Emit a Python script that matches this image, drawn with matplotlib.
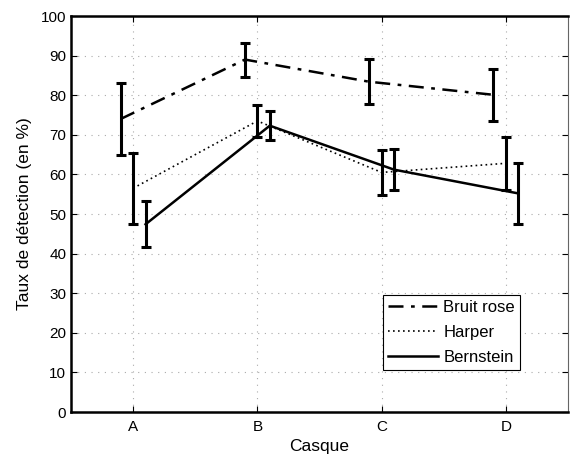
import numpy as np
import matplotlib.pyplot as plt

plt.rcParams['font.family'] = ['Liberation Sans', 'DejaVu Sans']

casques = ['A', 'B', 'C', 'D']
x = np.arange(1, 5)

bruit_rose = [74.0, 89.0, 83.4, 80.1]
bruit_rose_err = [9.2, 4.3, 5.7, 6.5]
harper = [56.5, 73.5, 60.5, 62.8]
harper_err = [9.0, 4.0, 5.7, 6.7]
bernstein = [47.4, 72.3, 61.2, 55.2]
bernstein_err = [5.8, 3.6, 5.2, 7.8]

fig = plt.figure(figsize=(5.7, 4.57), dpi=100)
ax = fig.add_axes([71/570, 1 - 412/457, (568-71)/570, (412-16)/457])

eb = dict(color='black', elinewidth=2.2, capsize=3.5, capthick=2.2)
ax.errorbar(x - 0.1, bruit_rose, yerr=bruit_rose_err, linestyle=(0, (6, 3, 1.5, 3)),
            lw=1.8, label='Bruit rose', **eb)
ax.errorbar(x, harper, yerr=harper_err, linestyle=(0, (1, 2)), lw=1.2,
            label='Harper', **eb)
ax.errorbar(x + 0.1, bernstein, yerr=bernstein_err, linestyle='-', lw=1.8,
            label='Bernstein', **eb)

ax.set_xlim(0.5, 4.5)
ax.set_ylim(0, 100)
ax.set_xticks(x)
ax.set_xticklabels(casques)
ax.set_yticks(np.arange(0, 101, 10))
ax.tick_params(direction='in', length=4, labelsize=11, top=True, right=True)
ax.tick_params(axis='x', pad=6)
ax.grid(True, linestyle=(0, (1, 5)), color='#aaaaaa', lw=0.8)
for s in ['left', 'bottom', 'top']:
    ax.spines[s].set_linewidth(1.8)
ax.spines['right'].set_linewidth(0.8)
ax.spines['right'].set_color('#666666')

ax.set_xlabel('Casque', fontsize=12.5, labelpad=3)
ax.set_ylabel('Taux de détection (en %)', fontsize=12.5, labelpad=6)

h, l = ax.get_legend_handles_labels()
h = [hh[0] for hh in h]
leg = ax.legend(h, l, loc='lower right', bbox_to_anchor=(0.92, 0.085), fontsize=12,
                fancybox=False, edgecolor='black', framealpha=1, handlelength=3.0,
                borderpad=0.3, labelspacing=0.6, handletextpad=0.3)
leg.get_frame().set_linewidth(0.8)

fig.savefig('out.png', dpi=100)
